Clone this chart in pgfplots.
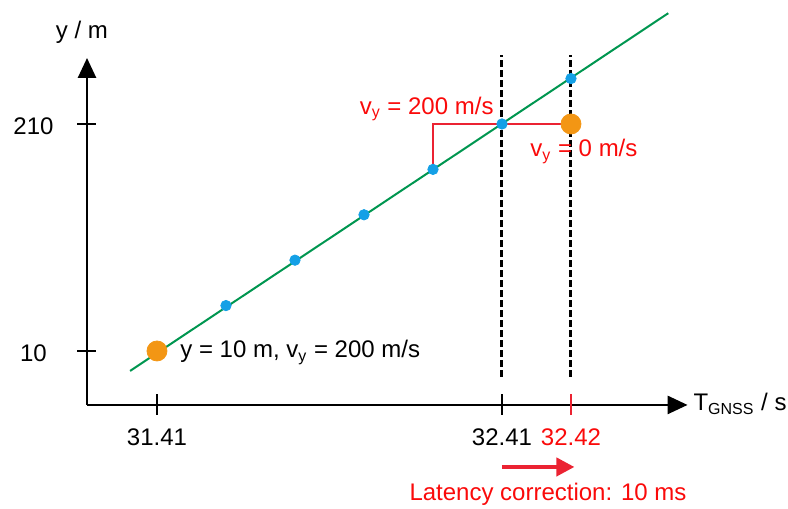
\documentclass[border=0pt]{standalone}
\usepackage{pgfplots}
\pgfplotsset{compat=1.18}
\usepackage{fontspec}
\setmainfont{Liberation Sans}
\usetikzlibrary{arrows.meta}
\definecolor{lgreen}{RGB}{0,150,80}
\definecolor{dblue}{RGB}{20,160,230}
\definecolor{dorange}{RGB}{243,150,20}
\definecolor{lred}{RGB}{235,35,50}
\definecolor{tred}{RGB}{250,10,10}
\begin{document}
\begin{tikzpicture}[font=\fontsize{12}{14}\selectfont]
\begin{axis}[
  scale only axis, width=394pt, height=254.5pt,
  xmin=-2.275, xmax=9.145, ymin=-3.480, ymax=7.731,
  hide axis, clip=false,
]
\coordinate (BL) at (rel axis cs:0,0);
\coordinate (TR) at (rel axis cs:1,1);
% axes
\draw[line width=1.3pt, -{Triangle[length=10pt,width=9pt]}] (axis cs:-1.014,-1.189) -- (axis cs:-1.014,6.454);
\draw[line width=1.3pt, -{Triangle[length=10pt,width=9pt]}] (axis cs:-1.014,-1.189) -- (axis cs:7.69,-1.189);
% y ticks
\draw[line width=0.8pt] ([xshift=-5pt]axis cs:-1.014,0) -- ([xshift=4.5pt]axis cs:-1.014,0);
\draw[line width=0.8pt] ([xshift=-5pt]axis cs:-1.014,5) -- ([xshift=4.5pt]axis cs:-1.014,5);
\node at (axis cs:-1.79,-0.05) {10};
\node at (axis cs:-1.79,4.95) {210};
% x ticks
\draw[line width=0.8pt] ([yshift=-5pt]axis cs:0,-1.189) -- ([yshift=5.5pt]axis cs:0,-1.189);
\draw[line width=0.8pt] ([yshift=-5pt]axis cs:5,-1.189) -- ([yshift=5.5pt]axis cs:5,-1.189);
\draw[line width=0.8pt, lred] ([yshift=-5pt]axis cs:6,-1.189) -- ([yshift=5.5pt]axis cs:6,-1.189);
\node at (axis cs:0,-1.894) {31.41};
\node at (axis cs:5,-1.894) {32.41};
\node[text=tred] at (axis cs:6,-1.894) {32.42};
% axis labels
\node at (axis cs:-1.087,7.03) {y / m};
\node[anchor=west, inner sep=0pt] at (axis cs:7.77,-1.17) {T\textsubscript{GNSS} / s};
% dashed verticals
\addplot[black, line width=1.5pt, dash pattern=on 3.5pt off 1.5pt] coordinates {(5,-0.573) (5,6.52)};
\addplot[black, line width=1.5pt, dash pattern=on 3.5pt off 1.5pt] coordinates {(6,-0.573) (6,6.52)};
% green line
\addplot[lgreen, line width=1pt] coordinates {(-0.39,-0.44) (7.41,7.44)};
% red construction
\addplot[lred, line width=1pt] coordinates {(4,4) (4,5) (6,5)};
% blue dots
\addplot[only marks, mark=*, mark size=2.6pt, dblue, mark options={draw=dblue, fill=dblue}] coordinates {(1,1) (2,2) (3,3) (4,4) (5,5) (6,6)};
% orange dots
\addplot[only marks, mark=*, mark size=5pt, dorange, mark options={draw=dorange, fill=dorange}] coordinates {(0,0) (6,5)};
% text labels
\node[anchor=east, text=tred] at (axis cs:4.98,5.33) {v\textsubscript{y} = 200 m/s};
\node[anchor=west, text=tred, inner sep=0pt] at (axis cs:5.406,4.40) {v\textsubscript{y} = 0 m/s};
\node[anchor=west, inner sep=0pt] at (axis cs:0.333,-0.03) {y = 10 m, v\textsubscript{y} = 200 m/s};
% latency arrow
\draw[lred, line width=2pt, -{Triangle[length=9pt,width=9pt]}] (axis cs:5,-2.555) -- (axis cs:6.05,-2.555);
\node[text=tred] at (axis cs:5.667,-3.15) {Latency correction: 10 ms};
\end{axis}
\pgfresetboundingbox
\useasboundingbox (BL) rectangle (TR);
\end{tikzpicture}
\end{document}
